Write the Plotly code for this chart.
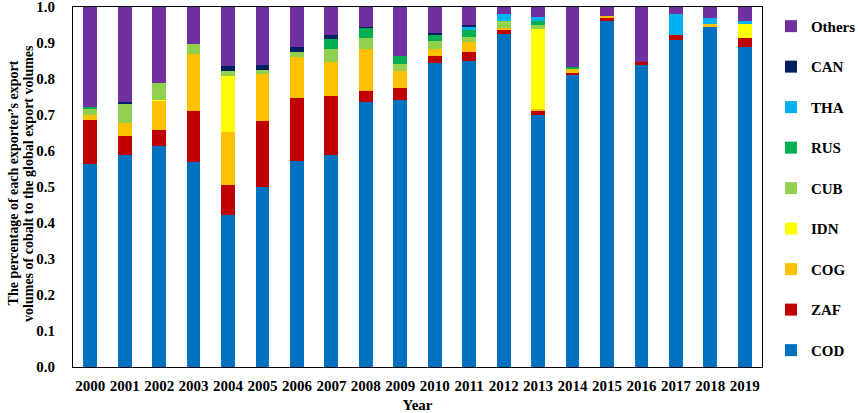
import plotly.graph_objects as go

years = [str(y) for y in range(2000, 2020)]

cod = [0.563, 0.589, 0.614, 0.570, 0.422, 0.500, 0.572, 0.589, 0.737, 0.743,
       0.845, 0.850, 0.925, 0.701, 0.812, 0.962, 0.839, 0.907, 0.947, 0.890]
zaf = [0.122, 0.054, 0.045, 0.141, 0.084, 0.182, 0.176, 0.165, 0.030, 0.033,
       0.020, 0.026, 0.010, 0.010, 0.005, 0.007, 0.008, 0.016, 0.000, 0.023]
cog = [0.015, 0.034, 0.081, 0.158, 0.147, 0.133, 0.114, 0.093, 0.116, 0.047,
       0.018, 0.026, 0.007, 0.006, 0.011, 0.007, 0.000, 0.000, 0.005, 0.000]
idn = [0.000, 0.000, 0.002, 0.000, 0.154, 0.000, 0.000, 0.000, 0.000, 0.000,
       0.000, 0.000, 0.000, 0.223, 0.000, 0.000, 0.000, 0.000, 0.000, 0.041]
cub = [0.016, 0.055, 0.047, 0.028, 0.014, 0.011, 0.014, 0.037, 0.030, 0.019,
       0.022, 0.016, 0.020, 0.011, 0.002, 0.000, 0.000, 0.000, 0.000, 0.000]
rus = [0.006, 0.000, 0.000, 0.000, 0.000, 0.000, 0.000, 0.026, 0.029, 0.023,
       0.019, 0.018, 0.000, 0.011, 0.004, 0.000, 0.000, 0.000, 0.000, 0.000]
tha = [0.000, 0.000, 0.000, 0.000, 0.000, 0.000, 0.000, 0.000, 0.000, 0.000,
       0.000, 0.010, 0.019, 0.011, 0.000, 0.000, 0.000, 0.058, 0.018, 0.006]
can = [0.000, 0.004, 0.000, 0.000, 0.014, 0.012, 0.013, 0.013, 0.003, 0.000,
       0.004, 0.005, 0.000, 0.000, 0.000, 0.000, 0.000, 0.000, 0.000, 0.000]
others = [0.278, 0.264, 0.211, 0.103, 0.165, 0.162, 0.111, 0.077, 0.055, 0.135,
          0.072, 0.049, 0.019, 0.027, 0.166, 0.024, 0.153, 0.019, 0.030, 0.040]

y_ticks = [0.0, 0.1, 0.2, 0.3, 0.4, 0.5, 0.6, 0.7, 0.8, 0.9, 1.0]

series = [
    ("COD", cod, "#0070C0"),
    ("ZAF", zaf, "#C00000"),
    ("COG", cog, "#FFC000"),
    ("IDN", idn, "#FFFF00"),
    ("CUB", cub, "#92D050"),
    ("RUS", rus, "#00B050"),
    ("THA", tha, "#00B0F0"),
    ("CAN", can, "#002060"),
    ("Others", others, "#7030A0"),
]

y_title_lines = ["The percentage of each exporter\u2019s export",
                 "volumes of cobalt to the global export volumes"]

serif = "Liberation Serif"


def plot_shares():
    fig = go.Figure()
    for i, (name, vals, color) in enumerate(series):
        # rank reversed so the legend reads Others -> COD like the stack
        fig.add_trace(go.Bar(
            x=years, y=vals, name=name, legendgroup=name,
            legendrank=len(series) - i,
            marker_color=color, marker_line_width=0, width=0.4))
    fig.update_layout(
        barmode="stack",
        template="plotly_white",
        width=858, height=413,
        margin=dict(l=73, r=96, t=7, b=46, autoexpand=False),
        font=dict(family=serif, color="black", size=15),
        plot_bgcolor="white",
        legend=dict(
            traceorder="grouped", tracegroupgap=18,
            x=1.013, xanchor="left", y=0.992, yanchor="top",
            font=dict(family=serif, size=15, color="black", weight="bold"),
            itemwidth=30),
        xaxis=dict(
            title=dict(text="<b>Year</b>", standoff=22,
                       font=dict(size=15)),
            tickfont=dict(size=15, weight="bold"),
            ticklabelstandoff=5,
            showline=True, linecolor="black", linewidth=1, mirror=True,
            showgrid=False, ticks="", range=[-0.5, 19.5],
            automargin=False),
        yaxis=dict(
            tickfont=dict(size=15, weight="bold"),
            ticklabelstandoff=14, ticklabeloverflow="allow",
            range=[0, 1], tickvals=y_ticks, tickformat=".1f",
            showline=True, linecolor="black", linewidth=1, mirror=True,
            showgrid=False, zeroline=False, ticks="",
            automargin=False),
    )
    # y title: one rotated annotation per line, placed left of the tick labels
    for line, xpos in zip(y_title_lines, [-0.087, -0.0645]):
        fig.add_annotation(
            text="<b>" + line + "</b>", textangle=-90, showarrow=False,
            xref="paper", yref="paper", x=xpos, y=0.51,
            xanchor="center", yanchor="middle",
            font=dict(family=serif, size=14, color="black"))
    # page body has a default 8px margin; drop it so the figure fills the window
    fig.write_html("out.html", config={"displayModeBar": False},
                   post_script="document.body.style.margin='0';")


def main():
    plot_shares()


if __name__ == "__main__":
    main()
